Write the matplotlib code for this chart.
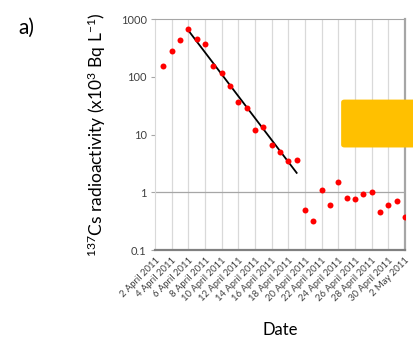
import numpy as np
import pandas as pd
import matplotlib
matplotlib.use("Agg")
import matplotlib.pyplot as plt
import matplotlib.dates as mdates
from matplotlib.patches import FancyBboxPatch

plt.rcParams['font.family'] = ['Lato', 'DejaVu Sans']
plt.rcParams['mathtext.default'] = 'regular'

# sampling dates (daily, 3 April - 2 May 2011)
dates = pd.to_datetime([
    "2011-04-03", "2011-04-04", "2011-04-05", "2011-04-06", "2011-04-07",
    "2011-04-08", "2011-04-09", "2011-04-10", "2011-04-11", "2011-04-12",
    "2011-04-13", "2011-04-14", "2011-04-15", "2011-04-16", "2011-04-17",
    "2011-04-18", "2011-04-19", "2011-04-20", "2011-04-21", "2011-04-22",
    "2011-04-23", "2011-04-24", "2011-04-25", "2011-04-26", "2011-04-27",
    "2011-04-28", "2011-04-29", "2011-04-30", "2011-05-01", "2011-05-02"])
# 137Cs (x10^3 Bq/L)
cs137 = [153, 279, 438, 680, 450, 364, 155, 116, 69, 36,
         28.6, 12.2, 13.4, 6.5, 4.9, 3.45, 3.64, 0.50, 0.32, 1.10,
         0.60, 1.51, 0.81, 0.75, 0.95, 1.0, 0.46, 0.59, 0.70, 0.38]

tick_dates = pd.to_datetime([
    "2011-04-02", "2011-04-04", "2011-04-06", "2011-04-08", "2011-04-10",
    "2011-04-12", "2011-04-14", "2011-04-16", "2011-04-18", "2011-04-20",
    "2011-04-22", "2011-04-24", "2011-04-26", "2011-04-28", "2011-04-30",
    "2011-05-02"])
tick_labels = ["2 April 2011", "4 April 2011", "6 April 2011", "8 April 2011",
               "10 April 2011", "12 April 2011", "14 April 2011", "16 April 2011",
               "18 April 2011", "20 April 2011", "22 April 2011", "24 April 2011",
               "26 April 2011", "28 April 2011", "30 April 2011", "2 May 2011"]

# exponential trend over the decline 6-19 April
fit_start, fit_end = "2011-04-06", "2011-04-19"

fig = plt.figure(figsize=(4.13, 3.47), dpi=100)
ax = fig.add_axes([0.3753, 0.2795, 0.6053, 0.6657])

ax.set_yscale('log')
ax.set_ylim(0.1, 1000)
ax.set_xlim(tick_dates[0], tick_dates[-1])

for d in tick_dates[1:-1]:
    ax.axvline(d, color='#d9d9d9', lw=0.9, zorder=0)
ax.axhline(1, color='#a6a6a6', lw=0.9, zorder=0)

ax.plot(dates, cs137, 'o', color='#ff0000', ms=4.3, mec='none', zorder=3)

mask = (dates >= fit_start) & (dates <= fit_end)
t = mdates.date2num(dates[mask])
k, b = np.polyfit(t, np.log10(np.array(cs137)[mask]), 1)
tt = np.array([t[0], t[-1]])
ax.plot(mdates.num2date(tt), 10 ** (k * tt + b), color='black', lw=1.3, zorder=2)

ax.spines['left'].set_color('#d9d9d9')
ax.spines['top'].set_color('#a6a6a6')
ax.spines['bottom'].set_color('#808080')
ax.spines['bottom'].set_linewidth(1.6)
ax.spines['right'].set_color('#a6a6a6')
ax.spines['right'].set_linewidth(1.6)

ax.set_yticks([0.1, 1, 10, 100, 1000])
ax.set_yticklabels(['0.1', '1', '10', '100', '1000'])
ax.yaxis.set_minor_locator(matplotlib.ticker.NullLocator())
ax.tick_params(axis='y', length=3, color='#a6a6a6', labelsize=8, labelcolor='#404040', pad=3)

ax.set_xticks(tick_dates)
ax.set_xticklabels(tick_labels, rotation=45, ha='right', rotation_mode='anchor')
ax.tick_params(axis='x', length=0, labelsize=6.8, labelcolor='#404040', pad=4)

ax.set_xlabel('Date', fontsize=12, labelpad=14)
ax.set_ylabel('$^{137}$Cs radioactivity (x10$^{3}$ Bq L$^{-1}$)', fontsize=12.5, labelpad=9)

fig.text(0.044, 0.92, 'a)', fontsize=15, va='center')

box = FancyBboxPatch((0.826, 0.575), 0.3, 0.138, boxstyle='round,pad=0,rounding_size=0.008',
                     transform=fig.transFigure, fc='#ffc000', ec='none', zorder=10)
fig.patches.append(box)

fig.savefig('out.png', dpi=100)
